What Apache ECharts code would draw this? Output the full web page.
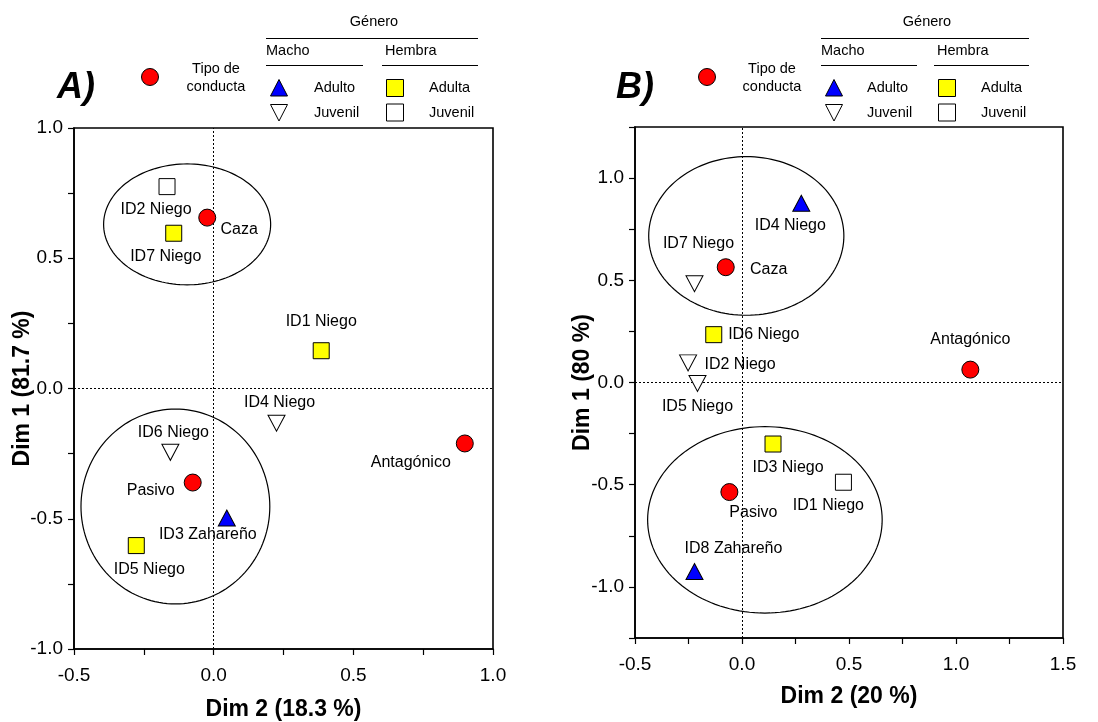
<!DOCTYPE html>
<html>
<head>
<meta charset="utf-8">
<title>Análisis de correspondencias: conducta por individuo</title>
<script src="https://cdn.jsdelivr.net/npm/echarts@6/dist/echarts.min.js"></script>
<style>
  html, body { margin: 0; padding: 0; background: #fff; }
  #chart { width: 1098px; height: 722px; }
</style>
</head>
<body>
<div id="chart"></div>
<script>
// ---------- Panel A: coordinates (Dim 2, Dim 1) ----------
const condA_names = ['Caza', 'Pasivo', 'Antagónico'];
const condA_dim2 = [-0.023, -0.075, 0.899];
const condA_dim1 = [0.656, -0.361, -0.211];

const indA_names = ['ID1 Niego', 'ID2 Niego', 'ID3 Zahareño', 'ID4 Niego', 'ID5 Niego', 'ID6 Niego', 'ID7 Niego'];
const indA_group = ['HA', 'HJ', 'MA', 'MJ', 'HA', 'MJ', 'HA'];
const indA_dim2 = [0.385, -0.167, 0.047, 0.225, -0.277, -0.155, -0.143];
const indA_dim1 = [0.145, 0.775, -0.497, -0.133, -0.603, -0.245, 0.596];

// grouping ellipses: centre (dim2, dim1) and semi-axes
const ellA_cx = [-0.095, -0.137];
const ellA_cy = [0.630, -0.453];
const ellA_rx = [0.299, 0.338];
const ellA_ry = [0.232, 0.374];

// ---------- Panel B ----------
const condB_names = ['Caza', 'Pasivo', 'Antagónico'];
const condB_dim2 = [-0.076, -0.059, 1.067];
const condB_dim1 = [0.564, -0.536, 0.063];

const indB_names = ['ID1 Niego', 'ID2 Niego', 'ID3 Niego', 'ID4 Niego', 'ID5 Niego', 'ID6 Niego', 'ID7 Niego', 'ID8 Zahareño'];
const indB_group = ['HJ', 'MJ', 'HA', 'MA', 'MJ', 'HA', 'MJ', 'MA'];
const indB_dim2 = [0.474, -0.252, 0.145, 0.277, -0.208, -0.132, -0.222, -0.222];
const indB_dim1 = [-0.488, 0.096, -0.301, 0.877, -0.005, 0.234, 0.483, -0.925];

const ellB_cx = [0.020, 0.107];
const ellB_cy = [0.717, -0.672];
const ellB_rx = [0.456, 0.548];
const ellB_ry = [0.388, 0.456];

// axis titles
const axisTitlesA = { x: 'Dim 2 (18.3 %)', y: 'Dim 1 (81.7 %)' };
const axisTitlesB = { x: 'Dim 2 (20 %)', y: 'Dim 1 (80 %)' };

// ---------- label placement (pixel offsets from the marker centre) ----------
const labelOffA = {
  'Caza': [32, 12], 'Pasivo': [-42, 8], 'Antagónico': [-54, 19],
  'ID1 Niego': [0, -29], 'ID2 Niego': [-11, 23], 'ID3 Zahareño': [-19, 17],
  'ID4 Niego': [3, -21], 'ID5 Niego': [13, 24], 'ID6 Niego': [3, -20], 'ID7 Niego': [-8, 23]
};
const labelOffB = {
  'Caza': [43, 2], 'Pasivo': [24, 21], 'Antagónico': [0, -30],
  'ID1 Niego': [-15, 23], 'ID2 Niego': [52, 2], 'ID3 Niego': [15, 24],
  'ID4 Niego': [-11, 22], 'ID5 Niego': [0, 23], 'ID6 Niego': [50, 0],
  'ID7 Niego': [4, -40], 'ID8 Zahareño': [39, -23]
};

const FONT = '"Liberation Sans", Arial, Helvetica, sans-serif';
const DOWN_TRI = 'path://M0,0L10,0L5,10Z';

const groupStyle = {
  COND: { symbol: 'circle', size: 17, color: '#ff0000' },
  MA:   { symbol: 'triangle', size: [17, 16], color: '#0000ff' },
  MJ:   { symbol: DOWN_TRI, size: [17, 16], color: '#ffffff' },
  HA:   { symbol: 'rect', size: 16, color: '#ffff00' },
  HJ:   { symbol: 'rect', size: 16, color: '#ffffff' }
};
const groupName = { COND: 'Tipo de conducta', MA: 'Macho adulto', MJ: 'Macho juvenil', HA: 'Hembra adulta', HJ: 'Hembra juvenil' };

function tickLabel(v) {
  const k = Math.round(v * 4);
  return k % 2 === 0 ? v.toFixed(1) : '';
}

function pointItem(name, x, y, offsets) {
  return {
    name: name,
    value: [x, y],
    label: { offset: offsets[name] || [0, 0] }
  };
}

function scatterSeries(gi, key, items) {
  const st = groupStyle[key];
  return {
    type: 'scatter',
    name: groupName[key],
    xAxisIndex: gi, yAxisIndex: gi,
    symbol: st.symbol,
    symbolSize: st.size,
    itemStyle: { color: st.color, borderColor: '#000', borderWidth: 1, opacity: 1 },
    label: {
      show: true, position: 'inside', formatter: '{b}',
      color: '#000', fontSize: 16, fontFamily: FONT
    },
    emphasis: { disabled: true },
    z: 5,
    data: items
  };
}

function panelSeries(gi, condNames, condX, condY, indNames, indGroup, indX, indY, ecx, ecy, erx, ery, offsets) {
  const out = [];
  // ellipses drawn through the axis scales
  out.push({
    type: 'custom',
    xAxisIndex: gi, yAxisIndex: gi,
    silent: true, z: 2,
    data: ecx.map((cx, i) => [cx, ecy[i], erx[i], ery[i]]),
    renderItem: function (params, api) {
      const cx = api.value(0), cy = api.value(1), rx = api.value(2), ry = api.value(3);
      const pts = [];
      for (let k = 0; k < 144; k++) {
        const t = (k / 144) * Math.PI * 2;
        pts.push(api.coord([cx + rx * Math.cos(t), cy + ry * Math.sin(t)]));
      }
      return {
        type: 'polygon',
        shape: { points: pts },
        style: { fill: 'none', stroke: '#000', lineWidth: 1.2 }
      };
    },
    markLine: {
      silent: true, symbol: 'none',
      label: { show: false },
      lineStyle: { color: '#000', width: 1, type: [2, 2] },
      data: [{ xAxis: 0 }, { yAxis: 0 }]
    }
  });
  ['HA', 'HJ', 'MA', 'MJ'].forEach(key => {
    const items = [];
    indNames.forEach((n, i) => {
      if (indGroup[i] === key) items.push(pointItem(n, indX[i], indY[i], offsets));
    });
    out.push(scatterSeries(gi, key, items));
  });
  out.push(scatterSeries(gi, 'COND', condNames.map((n, i) => pointItem(n, condX[i], condY[i], offsets))));
  return out;
}

function xAxisCfg(gi, min, max, title, gap) {
  return {
    type: 'value', gridIndex: gi, min: min, max: max, interval: 0.25,
    name: title, nameLocation: 'middle', nameGap: gap,
    nameTextStyle: { color: '#000', fontSize: 23, fontWeight: 'bold', fontFamily: FONT },
    axisLine: { show: true, onZero: false, lineStyle: { color: '#000', width: 1.6 } },
    axisTick: { show: true, length: 6, lineStyle: { color: '#000', width: 1.2 } },
    axisLabel: { color: '#000', fontSize: 19, fontFamily: FONT, margin: 17, formatter: tickLabel, showMinLabel: true, showMaxLabel: true },
    splitLine: { show: false }
  };
}
function yAxisCfg(gi, min, max, title, gap) {
  return {
    type: 'value', gridIndex: gi, min: min, max: max, interval: 0.25,
    name: title, nameLocation: 'middle', nameGap: gap, nameRotate: 90, nameMoveOverlap: false,
    nameTextStyle: { color: '#000', fontSize: 23, fontWeight: 'bold', fontFamily: FONT },
    axisLine: { show: true, onZero: false, lineStyle: { color: '#000', width: 1.6 } },
    axisTick: { show: true, length: 6, lineStyle: { color: '#000', width: 1.2 } },
    axisLabel: { color: '#000', fontSize: 19, fontFamily: FONT, margin: 11, formatter: tickLabel, showMinLabel: true, showMaxLabel: true },
    splitLine: { show: false }
  };
}

// ---------- legend block (one per panel) ----------
function legendBlock(o) {
  const txt = (text, x, y, align, font) => ({
    type: 'text', silent: true,
    style: { text: text, x: x, y: y, fill: '#000', font: font || ('14.5px ' + FONT), textAlign: align || 'left', textVerticalAlign: 'middle' }
  });
  const ln = (x1, x2, y) => ({
    type: 'line', silent: true,
    shape: { x1: x1, y1: y, x2: x2, y2: y },
    style: { stroke: '#000', lineWidth: 1 }
  });
  const stroke = { stroke: '#000', lineWidth: 1 };
  return [
    { type: 'circle', silent: true, shape: { cx: o.cx, cy: o.cy, r: 8.5 }, style: Object.assign({ fill: '#ff0000' }, stroke) },
    txt('Tipo de', o.tx, 69, 'center'),
    txt('conducta', o.tx, 86.5, 'center'),
    txt('Género', o.gx, 22, 'center'),
    ln(o.g1, o.g2, 38.5),
    txt('Macho', o.m1, 51),
    ln(o.m1, o.m2, 65.5),
    txt('Hembra', o.h1, 51),
    ln(o.h1 - 3, o.g2, 65.5),
    { type: 'polygon', silent: true, shape: { points: [[o.sx, 79.5], [o.sx + 8.5, 96], [o.sx - 8.5, 96]] }, style: Object.assign({ fill: '#0000ff' }, stroke) },
    txt('Adulto', o.lx, 88),
    { type: 'polygon', silent: true, shape: { points: [[o.sx - 8.5, 104.5], [o.sx + 8.5, 104.5], [o.sx, 121]] }, style: Object.assign({ fill: '#ffffff' }, stroke) },
    txt('Juvenil', o.lx, 112.5),
    { type: 'rect', silent: true, shape: { x: o.qx - 8.5, y: 79.5, width: 17, height: 17 }, style: Object.assign({ fill: '#ffff00' }, stroke) },
    txt('Adulta', o.rx, 88),
    { type: 'rect', silent: true, shape: { x: o.qx - 8.5, y: 104, width: 17, height: 17 }, style: Object.assign({ fill: '#ffffff' }, stroke) },
    txt('Juvenil', o.rx, 112.5),
    // panel letter
    txt(o.panel, o.px, 88, 'center', 'italic bold 36px ' + FONT)
  ];
}

const graphics = []
  .concat(legendBlock({ cx: 150, cy: 77, tx: 216, gx: 374, g1: 266, g2: 478, m1: 266, m2: 363, h1: 385, sx: 279, lx: 314, qx: 395, rx: 429, panel: 'A)', px: 76 }))
  .concat(legendBlock({ cx: 707, cy: 77, tx: 772, gx: 927, g1: 821, g2: 1029, m1: 821, m2: 917, h1: 937, sx: 834, lx: 867, qx: 947, rx: 981, panel: 'B)', px: 635 }));

const option = {
  backgroundColor: '#fff',
  animation: false,
  grid: [
    { left: 74, top: 128, width: 419, height: 521, outerBoundsMode: 'none', containLabel: false, show: true, borderColor: '#000', borderWidth: 1.6, backgroundColor: 'transparent' },
    { left: 635, top: 127, width: 428, height: 511, outerBoundsMode: 'none', containLabel: false, show: true, borderColor: '#000', borderWidth: 1.6, backgroundColor: 'transparent' }
  ],
  xAxis: [
    xAxisCfg(0, -0.5, 1.0, axisTitlesA.x, 49),
    xAxisCfg(1, -0.5, 1.5, axisTitlesB.x, 47)
  ],
  yAxis: [
    yAxisCfg(0, -1.0, 1.0, axisTitlesA.y, 40),
    yAxisCfg(1, -1.25, 1.25, axisTitlesB.y, 41)
  ],
  graphic: graphics,
  series: []
    .concat(panelSeries(0, condA_names, condA_dim2, condA_dim1, indA_names, indA_group, indA_dim2, indA_dim1, ellA_cx, ellA_cy, ellA_rx, ellA_ry, labelOffA))
    .concat(panelSeries(1, condB_names, condB_dim2, condB_dim1, indB_names, indB_group, indB_dim2, indB_dim1, ellB_cx, ellB_cy, ellB_rx, ellB_ry, labelOffB))
};

const chart = echarts.init(document.getElementById('chart'), null, { renderer: 'canvas' });
chart.setOption(option);
</script>
</body>
</html>
